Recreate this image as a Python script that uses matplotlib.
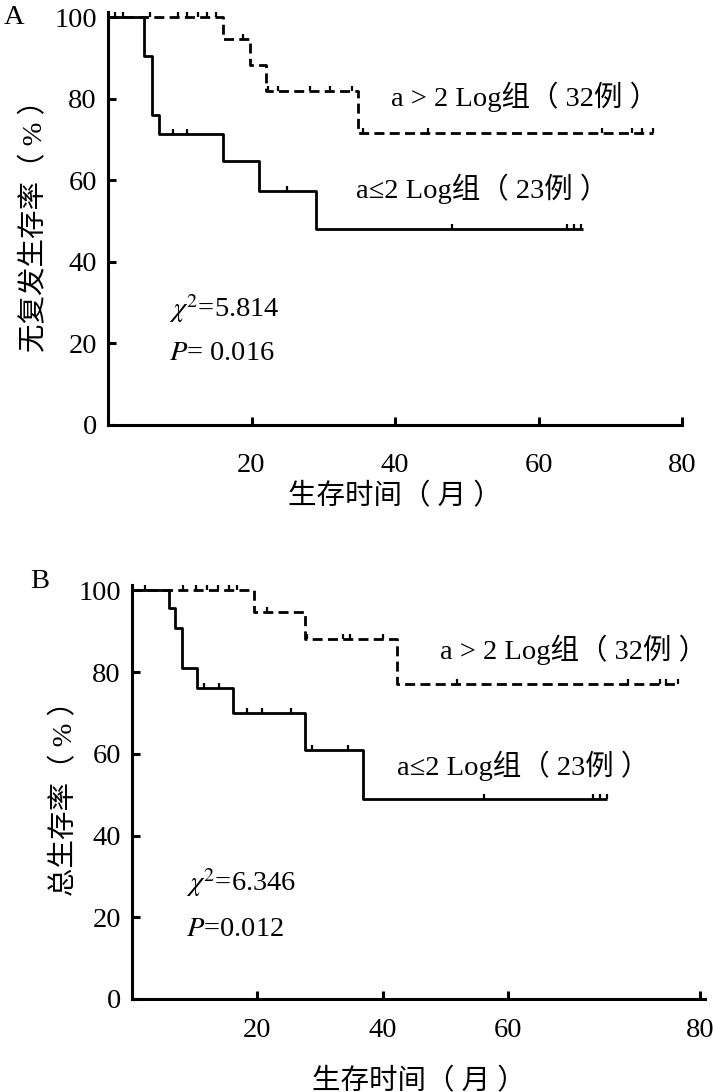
import matplotlib
matplotlib.use("Agg")
import matplotlib.pyplot as plt
from matplotlib.path import Path
import numpy as np

plt.rcParams['font.family'] = ['Liberation Serif', 'Noto Sans CJK SC', 'DejaVu Sans']
plt.rcParams['mathtext.fontset'] = 'stix'

# ---------------- data ----------------
# Panel A: recurrence-free survival
A_low_t = [0, 5.0, 6.1, 7.1, 16.0, 21.0, 29.0, 66.2]
A_low_s = [100, 90.5, 76.0, 71.3, 64.7, 57.4, 48.0, 48.0]
A_low_cens_t = [9.0, 11.0, 25.0, 48.0, 64.0, 64.9, 65.9]

A_high_t = [0, 16.0, 19.8, 22.0, 34.8, 75.9]
A_high_s = [100, 94.6, 88.2, 81.9, 71.6, 71.6]
A_high_cens_t = [1.0, 2.1, 5.8, 9.8, 11.0, 12.5, 13.8, 15.0, 18.8, 22.3, 23.7,
                 28.1, 30.9, 34.0, 35.5, 44.6, 68.9, 73.1, 74.4, 75.9]

# Panel B: overall survival
B_low_t = [0, 5.2, 6.0, 7.0, 9.1, 14.1, 24.1, 32.2, 66.3]
B_low_s = [100, 95.6, 90.7, 81.1, 76.2, 69.9, 61.0, 49.0, 49.0]
B_low_cens_t = [10.0, 12.2, 16.0, 18.1, 22.2, 25.1, 30.2, 49.2, 64.4, 65.4, 66.3]

B_high_t = [0, 17.0, 24.1, 37.0, 76.3]
B_high_s = [100, 94.6, 88.0, 77.0, 77.0]
B_high_cens_t = [1.8, 7.1, 9.0, 10.5, 12.0, 13.5, 14.7, 18.8, 24.4, 29.5, 30.4,
                 35.0, 45.4, 69.3, 73.7, 74.6, 76.3]

y_ticks = [0, 20, 40, 60, 80, 100]
A_x_ticks = [20, 40, 60, 80]
A_x_labels = ['20', '40', '60', '80']
B_x_ticks = [17.5, 35, 52.5, 79.3]
B_x_labels = ['20', '40', '60', '80']

label_high = 'a > 2 Log组（ 32例 ）'
label_low = 'a≤2 Log组（ 23例 ）'
xlabel = '生存时间（ 月 ）'
A_ylabel = '无复发生存率（ % ）'
B_ylabel = '总生存率（ % ）'
A_stats = (r'$\chi^{2}$=5.814', r'$P$= 0.016')
B_stats = (r'$\chi^{2}$=6.346', r'$P$=0.012')

# --------------------------------------
W, H = 716, 1092
fig = plt.figure(figsize=(W / 100, H / 100), dpi=100)

tick_marker = Path([(0, 0), (0, 1)])
FS = 20.5


def surv_at(ts, ss, t):
    idx = np.searchsorted(ts, t, side='right') - 1
    return ss[max(idx, 0)]


def draw_panel(ax, low_t, low_s, low_c, high_t, high_s, high_c):
    ax.step(low_t, low_s, where='post', color='black', lw=2.0, solid_capstyle='butt')
    ax.step(high_t, high_s, where='post', color='black', lw=2.0,
            linestyle=(0, (3.6, 1.9)), dash_capstyle='butt')
    ax.plot(low_c, [surv_at(low_t, low_s, t) for t in low_c], linestyle='none',
            marker=tick_marker, markersize=7, markeredgewidth=1.6, color='black')
    ax.plot(high_c, [surv_at(high_t, high_s, t) for t in high_c], linestyle='none',
            marker=tick_marker, markersize=7, markeredgewidth=1.6, color='black')
    ax.set_xlim(0, 80)
    ax.set_ylim(0, 101.3)
    ax.set_yticks(y_ticks)
    for s in ['top', 'right']:
        ax.spines[s].set_visible(False)
    for s in ['left', 'bottom']:
        ax.spines[s].set_linewidth(2.2)
    ax.tick_params(direction='in', length=6, width=2.2, labelsize=FS)
    ax.tick_params(axis='y', pad=8)


# Panel A
axA = fig.add_axes([108 / W, 1 - 425 / H, 574 / W, 413 / H])
draw_panel(axA, A_low_t, A_low_s, A_low_cens_t, A_high_t, A_high_s, A_high_cens_t)
axA.set_xticks(A_x_ticks)
axA.set_xticklabels(A_x_labels)
axA.tick_params(axis='x', pad=20)
axA.set_xlabel(xlabel, fontsize=FS, labelpad=4)
axA.set_ylabel(A_ylabel, fontsize=FS, labelpad=4)
axA.text(39.5, 80.5, label_high, fontsize=FS, va='center')
axA.text(34.5, 58.0, label_low, fontsize=FS, va='center')
axA.text(8.5, 28.5, A_stats[0], fontsize=FS, va='center')
axA.text(8.5, 17.5, A_stats[1], fontsize=FS, va='center')
fig.text(4 / W, 1 - 18 / H, 'A', fontsize=FS, va='center', ha='left')

# Panel B
axB = fig.add_axes([132 / W, 1 - 999 / H, 573 / W, 414 / H])
draw_panel(axB, B_low_t, B_low_s, B_low_cens_t, B_high_t, B_high_s, B_high_cens_t)
axB.set_xticks(B_x_ticks)
axB.set_xticklabels(B_x_labels)
axB.tick_params(axis='x', pad=14)
axB.set_xlabel(xlabel, fontsize=FS, labelpad=18)
axB.set_ylabel(B_ylabel, fontsize=FS, labelpad=0)
axB.text(43.0, 85.5, label_high, fontsize=FS, va='center')
axB.text(37.0, 57.0, label_low, fontsize=FS, va='center')
axB.text(7.5, 28.5, B_stats[0], fontsize=FS, va='center')
axB.text(7.5, 17.0, B_stats[1], fontsize=FS, va='center')
fig.text(30 / W, 1 - 582 / H, 'B', fontsize=FS, va='center', ha='left')

fig.savefig('out.png', dpi=100)
